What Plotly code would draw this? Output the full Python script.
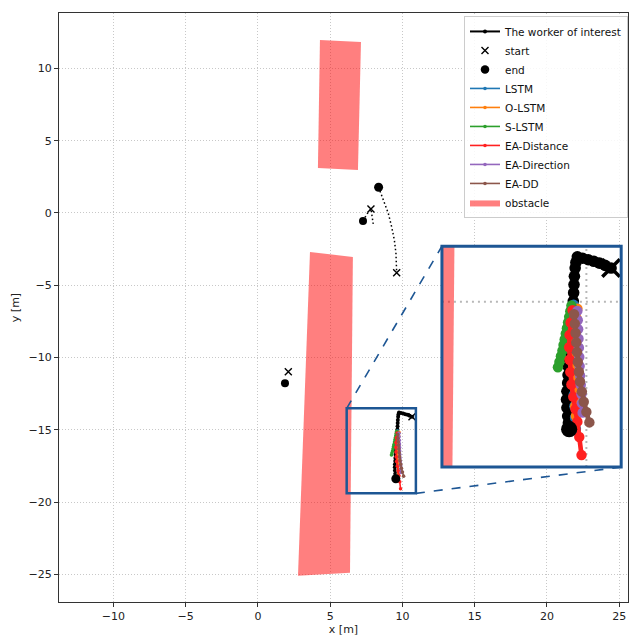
import plotly.graph_objects as go

# ---------------- data ----------------
worker_x = [10.66, 10.50, 10.35, 10.20, 10.05, 9.90, 9.76, 9.72, 9.70, 9.68, 9.67, 9.66, 9.65, 9.63, 9.61,
            9.59, 9.58, 9.56, 9.54, 9.53, 9.52, 9.51, 9.50, 9.48, 9.47, 9.48, 9.50, 9.52, 9.54]
worker_y = [-14.10, -14.03, -13.97, -13.92, -13.88, -13.84, -13.80, -13.95, -14.10, -14.32, -14.54, -14.76,
            -14.98, -15.20, -15.42, -15.64, -15.85, -16.07, -16.29, -16.51, -16.73, -16.95, -17.16, -17.38,
            -17.60, -17.82, -18.04, -18.22, -18.39]

other1_x = [8.35, 8.67, 9.02, 9.25, 9.44, 9.55, 9.60]
other1_y = [1.78, 0.90, -0.02, -0.95, -1.87, -2.79, -4.13]
other2_x = [7.98, 7.89, 7.82, 7.54, 7.27]
other2_y = [-0.76, -0.21, 0.28, -0.07, -0.55]

start_x = [10.66, 9.60, 7.82, 2.10]
start_y = [-14.10, -4.13, 0.28, -10.98]
end_x = [9.54, 8.35, 7.27, 1.87]
end_y = [-18.39, 1.78, -0.55, -11.79]
end_sizes = [9, 9, 8, 8]

models = ["LSTM", "O-LSTM", "S-LSTM", "EA-Distance", "EA-Direction", "EA-DD"]
model_colors = ["#1f77b4", "#ff7f0e", "#2ca02c", "#ff2020", "#9467bd", "#8c564b"]
pred_x = {
    "LSTM": [9.66, 9.63, 9.61, 9.60, 9.60, 9.61, 9.62, 9.64, 9.66, 9.68, 9.70, 9.72],
    "O-LSTM": [9.76, 9.74, 9.72, 9.70, 9.69, 9.68, 9.67, 9.67, 9.68, 9.69, 9.70, 9.72],
    "S-LSTM": [9.60, 9.57, 9.54, 9.51, 9.48, 9.45, 9.42, 9.39, 9.36, 9.32, 9.28, 9.24],
    "EA-Distance": [9.63, 9.58, 9.55, 9.54, 9.55, 9.57, 9.60, 9.65, 9.71, 9.76, 9.81, 9.87],
    "EA-Direction": [9.76, 9.77, 9.78, 9.79, 9.80, 9.81, 9.82, 9.83, 9.85, 9.87, 9.88, 9.90],
    "EA-DD": [9.67, 9.69, 9.71, 9.73, 9.75, 9.77, 9.80, 9.83, 9.88, 9.93, 10.00, 10.08],
}
pred_y = {
    "LSTM": [-15.08, -15.38, -15.68, -15.98, -16.28, -16.58, -16.88, -17.18, -17.48, -17.78, -18.08, -18.38],
    "O-LSTM": [-15.18, -15.44, -15.70, -15.96, -16.22, -16.48, -16.74, -17.00, -17.26, -17.52, -17.78, -18.04],
    "S-LSTM": [-15.10, -15.25, -15.40, -15.55, -15.70, -15.85, -16.00, -16.15, -16.30, -16.45, -16.60, -16.74],
    "EA-Distance": [-15.22, -15.55, -15.88, -16.21, -16.54, -16.87, -17.20, -17.53, -17.86, -18.19, -18.60, -19.08],
    "EA-Direction": [-15.24, -15.49, -15.73, -15.98, -16.22, -16.47, -16.71, -16.96, -17.21, -17.46, -17.70, -17.95],
    "EA-DD": [-15.33, -15.58, -15.83, -16.08, -16.34, -16.60, -16.86, -17.12, -17.39, -17.66, -17.93, -18.21],
}

obstacle1_x = [4.29, 7.13, 6.92, 4.15, 4.29]
obstacle1_y = [11.97, 11.83, 2.98, 3.11, 11.97]
obstacle2_x = [3.60, 6.57, 6.37, 2.77, 3.60]
obstacle2_y = [-2.70, -3.04, -24.90, -25.10, -2.70]

x_ticks = [-10, -5, 0, 5, 10, 15, 20, 25]
y_ticks = [-25, -20, -15, -10, -5, 0, 5, 10]

X_RANGE = [-13.77, 25.61]
Y_RANGE = [-26.92, 13.84]
INSET_X = [6.14, 10.93]
INSET_Y = [-19.40, -13.52]
INSET_DOM_X = [0.673, 0.988]
INSET_DOM_Y = [0.229, 0.604]

BOX_BLUE = "#1d5694"
OBST_FILL = "rgba(255,0,0,0.5)"
FONT = "DejaVu Sans"

fig = go.Figure()


def add_all(xa, ya, inset):
    s = 2.9 if inset else 1.0
    leg = not inset
    if inset:
        fig.add_trace(go.Scatter(x=[INSET_X[0], INSET_X[1], INSET_X[1], INSET_X[0], INSET_X[0]],
                                 y=[INSET_Y[0], INSET_Y[0], INSET_Y[1], INSET_Y[1], INSET_Y[0]],
                                 fill="toself", fillcolor="white", mode="none", showlegend=False,
                                 hoverinfo="skip", xaxis=xa, yaxis=ya))
        fig.add_trace(go.Scatter(x=[10, 10], y=INSET_Y, mode="lines",
                                 line=dict(color="#b8b8b8", width=2, dash="2px,4px"),
                                 showlegend=False, hoverinfo="skip", xaxis=xa, yaxis=ya))
        fig.add_trace(go.Scatter(x=INSET_X, y=[-15, -15], mode="lines",
                                 line=dict(color="#b8b8b8", width=2, dash="2px,4px"),
                                 showlegend=False, hoverinfo="skip", xaxis=xa, yaxis=ya))
    for i, (ox, oy) in enumerate([(obstacle1_x, obstacle1_y), (obstacle2_x, obstacle2_y)]):
        fig.add_trace(go.Scatter(x=ox, y=oy, fill="toself", fillcolor=OBST_FILL, mode="lines",
                                 line=dict(width=0, color=OBST_FILL), name="obstacle",
                                 showlegend=(leg and i == 0), legendrank=10, xaxis=xa, yaxis=ya))
    if not inset:
        for ox, oy in [(other1_x, other1_y), (other2_x, other2_y)]:
            fig.add_trace(go.Scatter(x=ox, y=oy, mode="lines",
                                     line=dict(color="black", width=1.5, dash="1.5px,2.5px"),
                                     showlegend=False, xaxis=xa, yaxis=ya))
    fig.add_trace(go.Scatter(x=worker_x, y=worker_y, mode="lines+markers", name="The worker of interest",
                             line=dict(color="black", width=2 * s),
                             marker=dict(size=4 * s, color="black", opacity=1, line=dict(width=0)),
                             showlegend=leg, legendrank=1, xaxis=xa, yaxis=ya))
    for k, (m, c) in enumerate(zip(models, model_colors)):
        fig.add_trace(go.Scatter(x=pred_x[m], y=pred_y[m], mode="lines+markers", name=m,
                                 line=dict(color=c, width=1.6 * s),
                                 marker=dict(size=3.6 * s, color=c, opacity=1, line=dict(width=0)),
                                 showlegend=leg, legendrank=4 + k, xaxis=xa, yaxis=ya))
    xs = 2.5 if inset else 1.0
    fig.add_trace(go.Scatter(x=start_x, y=start_y, mode="markers", name="start",
                             marker=dict(symbol="x-thin", size=7 * xs, opacity=1,
                                         line=dict(width=1.4 * xs, color="black"), color="black"),
                             showlegend=leg, legendrank=2, xaxis=xa, yaxis=ya))
    fig.add_trace(go.Scatter(x=end_x, y=end_y, mode="markers", name="end",
                             marker=dict(symbol="circle", size=[v * (1.8 if inset else 1) for v in end_sizes],
                                         color="black", opacity=1, line=dict(width=0, color="black")),
                             showlegend=leg, legendrank=3, xaxis=xa, yaxis=ya))


add_all("x", "y", False)
add_all("x2", "y2", True)


def to_paper(x, y):
    return ((x - X_RANGE[0]) / (X_RANGE[1] - X_RANGE[0]), (y - Y_RANGE[0]) / (Y_RANGE[1] - Y_RANGE[0]))


shapes = []
shapes.append(dict(type="rect", xref="x", yref="y", x0=INSET_X[0], x1=INSET_X[1], y0=INSET_Y[0], y1=INSET_Y[1],
                   line=dict(color=BOX_BLUE, width=2.5), layer="above"))
p_tl = to_paper(INSET_X[0], INSET_Y[1])
p_br = to_paper(INSET_X[1], INSET_Y[0])
shapes.append(dict(type="line", xref="paper", yref="paper", x0=p_tl[0], y0=p_tl[1],
                   x1=INSET_DOM_X[0], y1=INSET_DOM_Y[1], line=dict(color=BOX_BLUE, width=1.6, dash="dash")))
shapes.append(dict(type="line", xref="paper", yref="paper", x0=p_br[0], y0=p_br[1],
                   x1=INSET_DOM_X[1], y1=INSET_DOM_Y[0], line=dict(color=BOX_BLUE, width=1.6, dash="dash")))
shapes.append(dict(type="rect", xref="paper", yref="paper", x0=INSET_DOM_X[0], x1=INSET_DOM_X[1],
                   y0=INSET_DOM_Y[0], y1=INSET_DOM_Y[1], line=dict(color=BOX_BLUE, width=3), layer="above"))

axis_common = dict(showline=True, mirror=True, linecolor="#333", linewidth=1, ticks="outside", ticklen=4,
                   tickcolor="#333", showgrid=True, gridcolor="#c8c8c8", griddash="1px,2px", gridwidth=1,
                   zeroline=False, tickfont=dict(family=FONT, size=11, color="#222"))

fig.update_layout(
    width=630, height=636, autosize=False,
    margin=dict(l=59, r=2, t=13, b=34),
    paper_bgcolor="white", plot_bgcolor="white",
    font=dict(family=FONT, size=11, color="#222"),
    xaxis=dict(range=X_RANGE, tickvals=x_ticks, domain=[0, 1], anchor="y",
               title=dict(text="x [m]", standoff=2, font=dict(size=11)), **axis_common),
    yaxis=dict(range=Y_RANGE, tickvals=y_ticks, domain=[0, 1], anchor="x",
               title=dict(text="y [m]", standoff=6, font=dict(size=11)), **axis_common),
    xaxis2=dict(range=INSET_X, domain=INSET_DOM_X, anchor="y2", showticklabels=False, showgrid=False,
                zeroline=False, showline=False, ticks=""),
    yaxis2=dict(range=INSET_Y, domain=INSET_DOM_Y, anchor="x2", showticklabels=False, showgrid=False,
                zeroline=False, showline=False, ticks=""),
    shapes=shapes,
    showlegend=True,
    legend=dict(x=1.0, y=0.995, xanchor="right", yanchor="top", bgcolor="rgba(255,255,255,0.85)",
                bordercolor="#cccccc", borderwidth=1, font=dict(family=FONT, size=10.5, color="#111"),
                itemwidth=30, tracegroupgap=0),
)

fig.write_html("out.html", config={"displayModeBar": False},
               post_script="document.body.style.margin='0';document.body.style.overflow='hidden';")
